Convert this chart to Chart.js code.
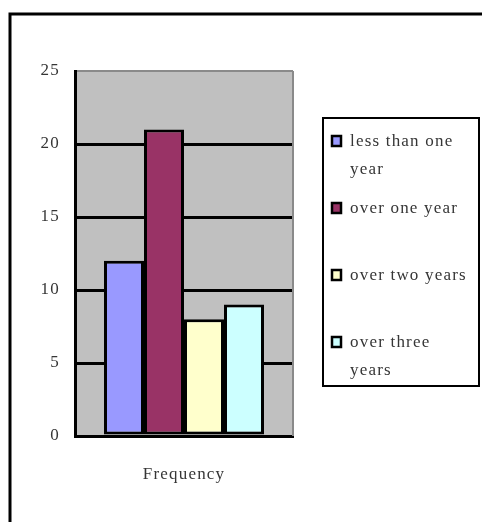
<!DOCTYPE html>
<html>
<head>
<meta charset="utf-8">
<script src="https://cdn.jsdelivr.net/npm/chart.js@4"></script>
<style>
  html, body { margin: 0; padding: 0; background: #fff; overflow: hidden; }
  #wrap { position: relative; width: 482px; height: 522px; }
</style>
</head>
<body>
<div id="wrap"><canvas id="c" width="482" height="522"></canvas></div>
<script>
// Data
const categories = ['Frequency'];
const seriesNames = ['less than one year', 'over one year', 'over two years', 'over three years'];
const lessThanOneYear = [12];
const overOneYear = [21];
const overTwoYears = [8];
const overThreeYears = [9];
const seriesColors = ['#9999FF', '#993366', '#FFFFCC', '#CCFFFF'];
const yMin = 0, yMax = 25, yStep = 5;

const TEXT = '#363636';
const FONT = 'Liberation Serif';
const SIZE = 17;
const SPACING = '1.2px';

// Outer frame, plot fill and plot border
const framePlugin = {
  id: 'frame',
  beforeDraw(chart) {
    const { ctx, chartArea: a } = chart;
    ctx.save();
    ctx.fillStyle = '#fff';
    ctx.fillRect(0, 0, chart.width, chart.height);
    ctx.strokeStyle = '#000';
    ctx.lineWidth = 3;
    ctx.beginPath();
    ctx.moveTo(10, chart.height);
    ctx.lineTo(10, 14);
    ctx.lineTo(chart.width, 14);
    ctx.stroke();
    ctx.fillStyle = '#C0C0C0';
    ctx.fillRect(a.left, a.top, a.right - a.left, a.bottom - a.top);
    ctx.restore();
    // evenly spaced, typewriter-like lettering for the axis text
    ctx.letterSpacing = SPACING;
  },
  beforeDatasetsDraw(chart) {
    const { ctx, chartArea: a } = chart;
    ctx.save();
    ctx.strokeStyle = '#8a8a8a';
    ctx.lineWidth = 2;
    ctx.beginPath();
    ctx.moveTo(a.right, a.top);
    ctx.lineTo(a.right, a.bottom);
    ctx.stroke();
    ctx.restore();
  }
};

// Boxed legend with wrapped labels
const boxLegend = {
  id: 'boxLegend',
  afterDraw(chart) {
    const { ctx } = chart;
    const box = { x: 323, y: 118, w: 156, h: 268 };
    ctx.save();
    ctx.letterSpacing = SPACING;
    ctx.strokeStyle = '#000';
    ctx.lineWidth = 2;
    ctx.strokeRect(box.x, box.y, box.w, box.h);
    ctx.font = `${SIZE}px "${FONT}"`;
    ctx.textBaseline = 'middle';
    ctx.fillStyle = TEXT;
    const textX = box.x + 27;
    const maxW = box.w - 27 - 6;
    chart.data.datasets.forEach((ds, i) => {
      const cy = box.y + 24 + i * 67;
      const words = ds.label.split(' ');
      const lines = [];
      let cur = '';
      words.forEach(w => {
        const t = cur ? cur + ' ' + w : w;
        if (ctx.measureText(t).width > maxW && cur) { lines.push(cur); cur = w; }
        else cur = t;
      });
      if (cur) lines.push(cur);
      ctx.fillStyle = ds.backgroundColor;
      ctx.fillRect(box.x + 9, cy - 6, 9, 10);
      ctx.strokeStyle = '#000';
      ctx.lineWidth = 2.5;
      ctx.strokeRect(box.x + 9, cy - 6, 9, 10);
      ctx.fillStyle = TEXT;
      lines.forEach((ln, k) => ctx.fillText(ln, textX, cy + k * 28));
    });
    ctx.restore();
  }
};

const datasets = [lessThanOneYear, overOneYear, overTwoYears, overThreeYears].map((vals, i) => ({
  label: seriesNames[i],
  data: vals,
  backgroundColor: seriesColors[i],
  borderColor: '#000',
  borderWidth: 3,
  borderSkipped: false,
  barPercentage: 1,
  categoryPercentage: 0.734
}));

new Chart(document.getElementById('c'), {
  type: 'bar',
  data: { labels: categories, datasets },
  plugins: [framePlugin, boxLegend],
  options: {
    responsive: false,
    animation: false,
    devicePixelRatio: 1,
    layout: { padding: { top: 71, right: 189, bottom: 0, left: 0 } },
    plugins: { legend: { display: false }, tooltip: { enabled: false } },
    scales: {
      x: {
        grid: { display: false },
        border: { color: '#000', width: 3 },
        ticks: { padding: 20, color: TEXT, font: { family: FONT, size: SIZE } },
        afterFit(s) { s.height = 86; }
      },
      y: {
        min: yMin, max: yMax,
        ticks: { stepSize: yStep, padding: 15, color: TEXT, font: { family: FONT, size: SIZE } },
        grid: {
          drawTicks: false,
          color: c => (c.tick && c.tick.value === yMax) ? '#8a8a8a' : '#000',
          lineWidth: c => (c.tick && c.tick.value === yMax) ? 2 : 3
        },
        border: { color: '#000', width: 3 },
        afterFit(s) { s.width = 75; }
      }
    }
  }
});
</script>
</body>
</html>
